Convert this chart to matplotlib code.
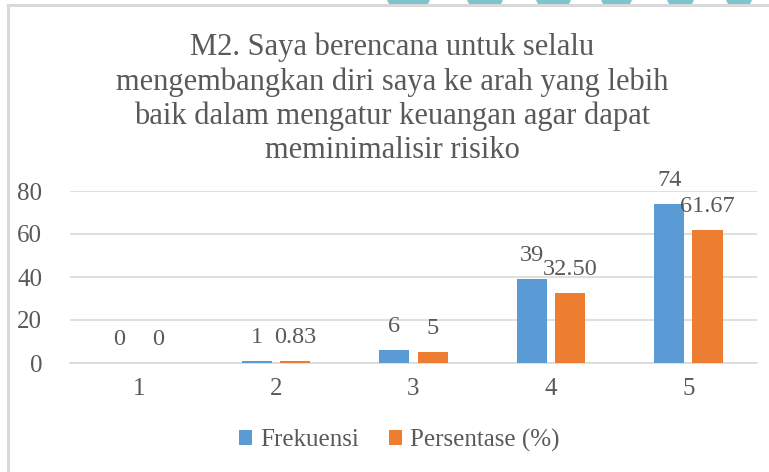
import matplotlib
matplotlib.use("Agg")
import matplotlib.pyplot as plt
import matplotlib.patches as mpatches
import numpy as np

# Data
categories = ['1', '2', '3', '4', '5']
frekuensi = [0, 1, 6, 39, 74]
persentase = [0, 0.83, 5, 32.50, 61.67]
persentase_labels = ['0', '0.83', '5', '32.50', '61.67']
title = ('M2. Saya berencana untuk selalu\n'
         'mengembangkan diri saya ke arah yang lebih\n'
         'baik dalam mengatur keuangan agar dapat\n'
         'meminimalisir risiko')

blue = '#5B9BD5'
orange = '#ED7D31'
text_gray = '#595959'
grid_gray = '#D9D9D9'

plt.rcParams['font.family'] = ['Liberation Serif', 'DejaVu Serif']

W, H = 769, 472
fig = plt.figure(figsize=(W / 100, H / 100), dpi=100)

# outer chart border (light gray) and watermark strip at the top
fig.patches.append(mpatches.Rectangle((8 / W, -0.05), 1.2, (H - 5) / H + 0.05,
                                      transform=fig.transFigure, fill=False,
                                      edgecolor=grid_gray, linewidth=2.2))
for x0, x1 in [(387, 430), (467, 503), (536, 571), (601, 632), (667, 694), (726, 752)]:
    fig.patches.append(mpatches.Polygon(
        [(x0 / W, 1.0), (x1 / W, 1.0), ((x1 - 2) / W, (H - 4) / H), ((x0 + 2) / W, (H - 4) / H)],
        closed=True, transform=fig.transFigure, facecolor='#7EC4CC', edgecolor='none'))

ax = fig.add_axes([70 / W, 109 / H, 687 / W, 172 / H])

x = np.arange(len(categories))
bw = 0.22
off = 0.14
ax.bar(x - off, frekuensi, bw, color=blue, label='Frekuensi', zorder=3)
ax.bar(x + off, persentase, bw, color=orange, label='Persentase (%)', zorder=3)

for i in range(len(categories)):
    ax.annotate(str(frekuensi[i]), (x[i] - off, frekuensi[i]), xytext=(0, 17),
                textcoords='offset points', ha='center', va='center',
                fontsize=17.5, color=text_gray)
    ax.annotate(persentase_labels[i], (x[i] + off, persentase[i]), xytext=(0, 17),
                textcoords='offset points', ha='center', va='center',
                fontsize=17.5, color=text_gray)

ax.set_xlim(-0.5, len(categories) - 0.5)
ax.set_ylim(0, 80)
ax.set_yticks([0, 20, 40, 60, 80])
ax.set_xticks(x)
ax.set_xticklabels(categories)
ax.yaxis.grid(True, color=grid_gray, linewidth=1.2, zorder=0)
ax.set_axisbelow(True)
for s in ['top', 'right', 'left']:
    ax.spines[s].set_visible(False)
ax.spines['bottom'].set_color(grid_gray)
ax.spines['bottom'].set_linewidth(1.2)
ax.tick_params(axis='both', length=0, labelsize=18, colors=text_gray)
ax.tick_params(axis='y', pad=20)
ax.tick_params(axis='x', pad=11)

fig.text(392 / W, 1 - 33 / H, title, ha='center', va='top', fontsize=22,
         color=text_gray, linespacing=1.22)

handles, labels = ax.get_legend_handles_labels()
leg = fig.legend(handles, labels, loc='center', bbox_to_anchor=(399 / W, 1 - 440 / H),
                 ncol=2, frameon=False, fontsize=18, handlelength=0.55,
                 handleheight=0.55, handletextpad=0.3, columnspacing=1.2)
for t in leg.get_texts():
    t.set_color(text_gray)

fig.savefig('out.png', dpi=100)
